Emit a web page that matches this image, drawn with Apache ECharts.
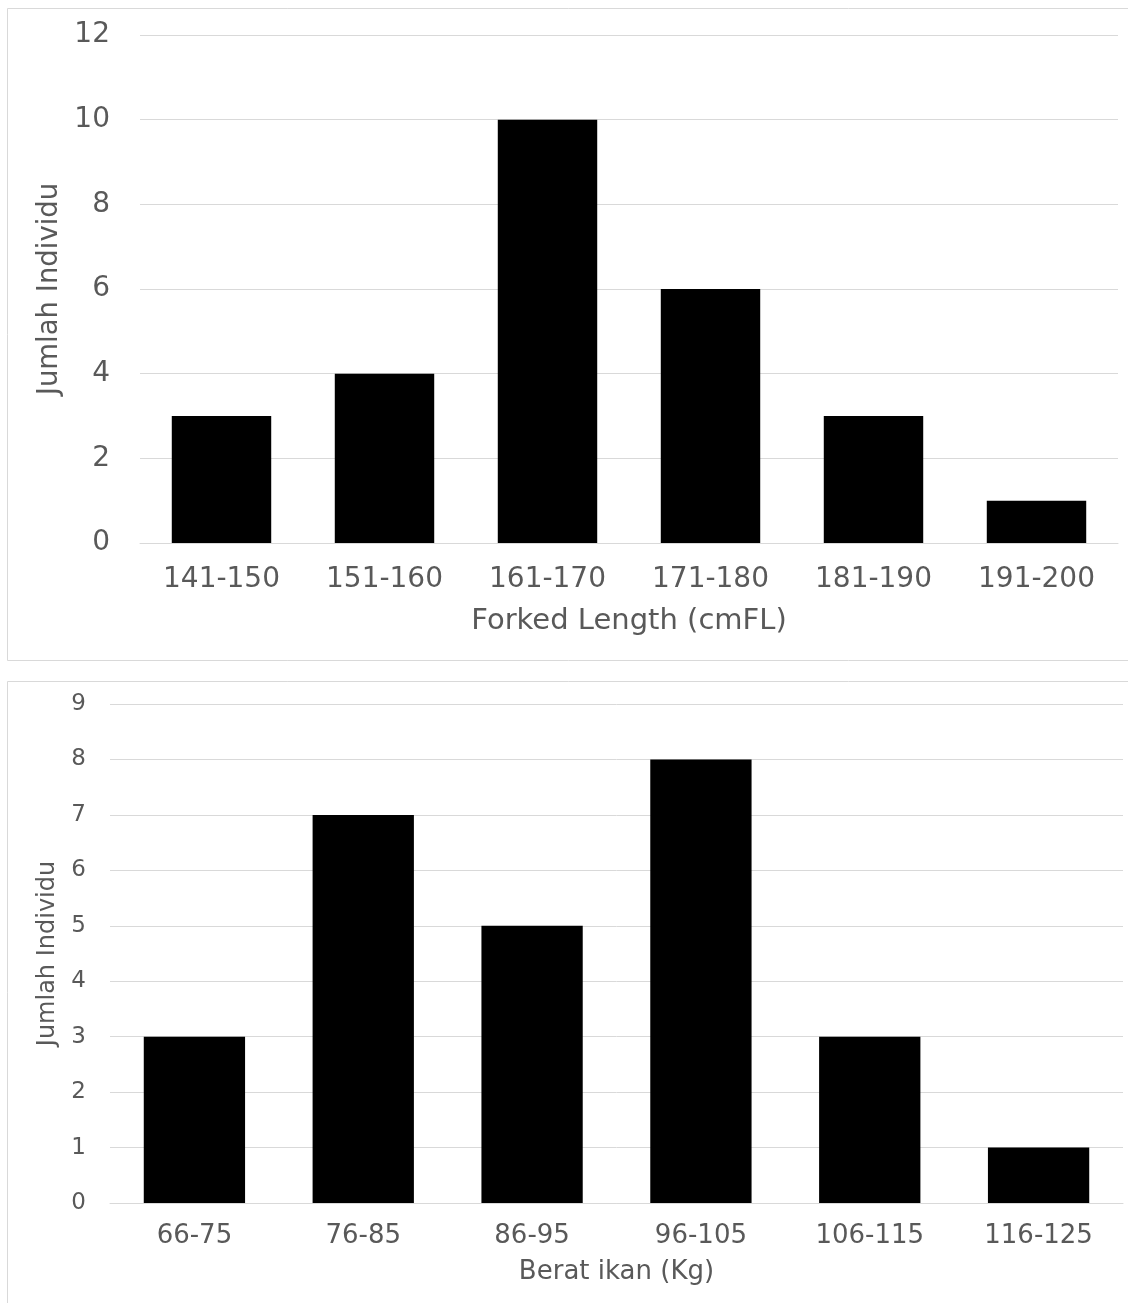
<!DOCTYPE html>
<html><head><meta charset="utf-8">
<script src="https://cdn.jsdelivr.net/npm/echarts@6/dist/echarts.min.js"></script>
<style>html,body{margin:0;padding:0;background:#fff}#c{width:1128px;height:1303px}</style>
</head><body><div id="c"></div>
<script>
const lengthCats = ['141-150','151-160','161-170','171-180','181-190','191-200'];
const lengthCounts = [3,4,10,6,3,1];
const weightCats = ['66-75','76-85','86-95','96-105','106-115','116-125'];
const weightCounts = [3,7,5,8,3,1];
const lengthAxisName = 'Forked Length (cmFL)';
const weightAxisName = 'Berat ikan (Kg)';
const yName = 'Jumlah Individu';

const grey = '#595959';
const gridCol = '#d9d9d9';
const font = 'DejaVu Sans, Liberation Sans, Arial, sans-serif';
const chart = echarts.init(document.getElementById('c'), null, {renderer:'canvas'});
chart.setOption({
  backgroundColor:'#fff',
  animation:false,
  graphic:[
    {type:'rect', shape:{x:7.5,y:8.5,width:1125,height:652}, style:{fill:'none',stroke:gridCol,lineWidth:1}},
    {type:'rect', shape:{x:7.5,y:681.5,width:1125,height:630}, style:{fill:'none',stroke:gridCol,lineWidth:1}}
  ],
  grid:[
    {left:140, right:10, top:35, height:508},
    {left:110, right:5, top:704, height:499}
  ],
  xAxis:[
    {type:'category', gridIndex:0, data:lengthCats, axisTick:{show:false},
     axisLine:{lineStyle:{color:gridCol}},
     axisLabel:{color:grey, fontSize:28, fontFamily:font, margin:23},
     name:lengthAxisName, nameLocation:'middle', nameGap:64,
     nameTextStyle:{color:grey, fontSize:29, fontFamily:font}},
    {type:'category', gridIndex:1, data:weightCats, axisTick:{show:false},
     axisLine:{lineStyle:{color:gridCol}},
     axisLabel:{color:grey, fontSize:26, fontFamily:font, margin:20},
     name:weightAxisName, nameLocation:'middle', nameGap:56,
     nameTextStyle:{color:grey, fontSize:26, fontFamily:font}}
  ],
  yAxis:[
    {type:'value', gridIndex:0, min:0, max:12, interval:2,
     axisLine:{show:false}, axisTick:{show:false},
     splitLine:{lineStyle:{color:gridCol}},
     axisLabel:{color:grey, fontSize:28, fontFamily:font, margin:30},
     name:yName, nameLocation:'middle', nameGap:76,
     nameTextStyle:{color:grey, fontSize:27.5, fontFamily:font}},
    {type:'value', gridIndex:1, min:0, max:9, interval:1,
     axisLine:{show:false}, axisTick:{show:false},
     splitLine:{lineStyle:{color:gridCol}},
     axisLabel:{color:grey, fontSize:23, fontFamily:font, margin:24},
     name:yName, nameLocation:'middle', nameGap:50,
     nameTextStyle:{color:grey, fontSize:24, fontFamily:font}}
  ],
  series:[
    {type:'bar', xAxisIndex:0, yAxisIndex:0, data:lengthCounts, barWidth:'61%', itemStyle:{color:'#000'}},
    {type:'bar', xAxisIndex:1, yAxisIndex:1, data:weightCounts, barWidth:'60%', itemStyle:{color:'#000'}}
  ]
});
</script></body></html>
